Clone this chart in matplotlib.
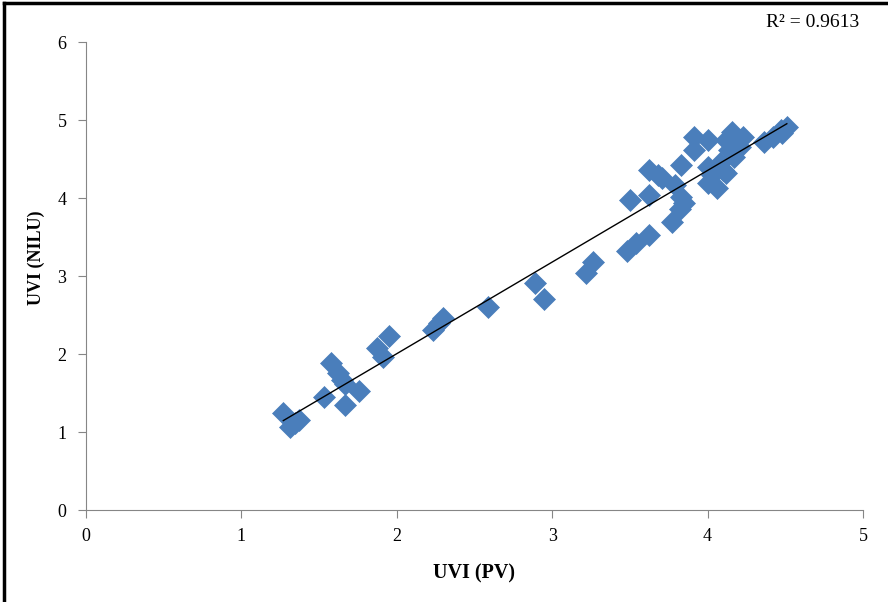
import matplotlib.pyplot as plt
import numpy as np

# UVI values
uvi_pv = [1.27, 1.31, 1.345, 1.37, 1.53, 1.58, 1.62, 1.65, 1.67, 1.67, 1.76,
          1.87, 1.91, 1.95, 2.23, 2.27, 2.30, 2.59, 2.89, 2.95, 3.22, 3.26,
          3.48, 3.54, 3.62, 3.77, 3.50, 3.62, 3.62, 3.68, 3.71, 3.83, 3.79,
          3.83, 3.85, 3.82, 3.91, 4.00, 3.91, 4.00, 4.00, 4.06, 4.12, 4.08,
          4.16, 4.17, 4.12, 4.21, 4.17, 4.14, 4.23, 4.36, 4.42, 4.47, 4.51,
          4.48, 4.10, 4.03]
uvi_nilu = [1.24, 1.06, 1.12, 1.15, 1.45, 1.88, 1.76, 1.67, 1.61, 1.35, 1.53,
            2.08, 1.96, 2.23, 2.31, 2.40, 2.46, 2.60, 2.91, 2.70, 3.04, 3.18,
            3.32, 3.42, 3.53, 3.69, 3.98, 4.04, 4.36, 4.29, 4.26, 4.42, 4.17,
            4.01, 3.93, 3.86, 4.78, 4.75, 4.62, 4.40, 4.19, 4.13, 4.32, 4.45,
            4.85, 4.70, 4.74, 4.65, 4.53, 4.62, 4.78, 4.72, 4.78, 4.87, 4.91,
            4.83, 4.36, 4.30]
r2_text = "R² = 0.9613"

x = np.array(uvi_pv)
y = np.array(uvi_nilu)
k, b = np.polyfit(x, y, 1)
xl = np.array([x.min(), x.max()])

plt.rcParams['font.family'] = ['Liberation Serif', 'DejaVu Serif']
fig = plt.figure(figsize=(8.88, 6.02), dpi=100)
ax = fig.add_axes([0.0968, 0.1528, 0.875, 0.7774])

ax.scatter(x, y, marker='D', s=125, color='#4a7ebb', edgecolors='#4a7ebb', linewidths=0.5, zorder=2)
ax.plot(xl, k * xl + b, color='black', lw=1, zorder=3)

ax.set_xlim(0, 5)
ax.set_ylim(0, 6)
ax.set_xticks(range(6))
ax.set_yticks(range(7))
for s in ['top', 'right']:
    ax.spines[s].set_visible(False)
for s in ['left', 'bottom']:
    ax.spines[s].set_color('#868686')
ax.tick_params(colors='#868686', labelcolor='black', labelsize=13, length=6, direction='out')
ax.tick_params(axis='y', pad=8)
ax.tick_params(axis='x', pad=7)

ax.set_xlabel("UVI (PV)", fontsize=14.5, fontweight='bold', labelpad=13)
ax.set_ylabel("UVI (NILU)", fontsize=13, fontweight='bold')
ax.yaxis.set_label_coords(-0.053, 0.538)

fig.text(0.968, 0.962, r2_text, fontsize=14, ha='right', va='center')

# outer frame, left and top only
fig.add_artist(plt.Line2D([0.0045, 0.0045], [0, 0.995], color='black', lw=2.5, transform=fig.transFigure))
fig.add_artist(plt.Line2D([0.0045, 1], [0.995, 0.995], color='black', lw=2.5, transform=fig.transFigure))

fig.savefig('out.png', dpi=100)
